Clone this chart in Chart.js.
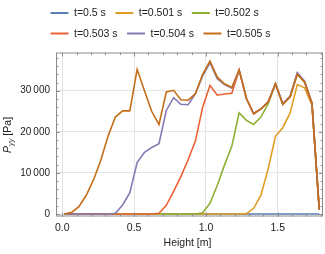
<!DOCTYPE html>
<html>
<head>
<meta charset="utf-8">
<script src="https://cdn.jsdelivr.net/npm/chart.js@4.4.1/dist/chart.umd.min.js"></script>
<style>
  body { margin: 0; background: #fff; }
  #wrap { width: 325px; height: 254px; position: relative; }
</style>
</head>
<body>
<div id="wrap"><canvas id="myChart"></canvas></div>
<script>
// sampled heights [m]
const heights = [0.014, 0.065, 0.115, 0.166, 0.217, 0.268, 0.318, 0.369, 0.420, 0.470,
                 0.521, 0.572, 0.622, 0.673, 0.724, 0.775, 0.825, 0.876, 0.927, 0.977,
                 1.028, 1.079, 1.129, 1.180, 1.231, 1.282, 1.332, 1.383, 1.434, 1.484,
                 1.535, 1.586, 1.636, 1.687, 1.738, 1.789];

const labels = ['t=0.5 s', 't=0.501 s', 't=0.502 s', 't=0.503 s', 't=0.504 s', 't=0.505 s'];
const colors = ['#5E81B5', '#E19C24', '#8FB032', '#EB6235', '#8778B3', '#C56E1A'];

// P_yy [Pa] per time step
const p500 = [0, 0, 0, 0, 0, 0, 0, 0, 0, 0, 0, 0, 0, 0, 0, 0, 0, 0, 0, 0,
              0, 0, 0, 0, 0, 0, 0, 0, 0, 0, 0, 0, 0, 0, 0, 0];
const p501 = [0, 0, 0, 0, 0, 0, 0, 0, 0, 0, 0, 0, 0, 0, 0, 0, 0, 0, 0, 0,
              0, 0, 0, 0, 0, 100, 1400, 4600, 11100, 18900, 21000, 24600, 31500, 30700, 26500, 1100];
const p502 = [0, 0, 0, 0, 0, 0, 0, 0, 0, 0, 0, 0, 0, 0, 0, 0, 0, 0, 0, 300,
              2600, 7000, 11900, 16500, 24600, 22800, 21800, 23600, 26900, 31700, 26700, 28500, 34000, 32100, 27000, 1100];
const p503 = [0, 0, 0, 0, 0, 0, 0, 0, 0, 0, 0, 0, 0, 200, 2100, 5500, 9100, 13200, 17800, 26000,
              31300, 28900, 29200, 29400, 35000, 28100, 24400, 25600, 27300, 31700, 26700, 28500, 34200, 32100, 27000, 1100];
const p504 = [0, 0, 0, 0, 0, 0, 0, 200, 2200, 5200, 12500, 15000, 16200, 17100, 25200, 28300, 26700, 26600, 29300, 33600,
              36800, 32900, 31500, 30600, 35000, 28100, 24400, 25600, 27300, 31700, 26900, 28700, 34400, 32300, 27000, 1100];
const p505 = [0, 400, 1800, 4500, 8300, 13100, 18900, 23600, 25100, 25100, 35200, 30000, 25000, 21800, 29700, 30100, 27800, 27700, 29300, 34000,
              37200, 33300, 31700, 30800, 35100, 28100, 24400, 25600, 27300, 31700, 26700, 28500, 34000, 32100, 27000, 1100];
const series = [p500, p501, p502, p503, p504, p505];

const xTicks = [0.0, 0.5, 1.0, 1.5];
const yTicks = [0, 10000, 20000, 30000];

function fmtThousands(v) {
    if (v === 0) return '0';
    return Math.floor(v / 1000) + '\u2009' + String(v % 1000).padStart(3, '0');
}

// frame with inside ticks, mathematica style
const framePlugin = {
    id: 'frame',
    afterDatasetsDraw(chart) {
        const { ctx, chartArea: a, scales: { x, y } } = chart;
        ctx.save();
        ctx.strokeStyle = '#8c8c8c';
        ctx.lineWidth = 1;
        ctx.strokeRect(a.left + 0.5, a.top + 0.5, a.right - a.left - 1, a.bottom - a.top - 1);
        ctx.beginPath();
        for (let i = 0; i <= 18; i++) {
            const v = i / 10;
            const px = Math.round(x.getPixelForValue(v)) + 0.5;
            const len = (i % 5 === 0) ? 4 : 2.5;
            ctx.moveTo(px, a.bottom); ctx.lineTo(px, a.bottom - len);
            ctx.moveTo(px, a.top); ctx.lineTo(px, a.top + len);
        }
        for (let i = 0; i <= 19; i++) {
            const v = i * 2000;
            const py = Math.round(y.getPixelForValue(v)) + 0.5;
            const len = (i % 5 === 0) ? 4 : 2.5;
            ctx.moveTo(a.left, py); ctx.lineTo(a.left + len, py);
            ctx.moveTo(a.right, py); ctx.lineTo(a.right - len, py);
        }
        ctx.stroke();
        ctx.restore();
    },
    afterDraw(chart) {
        const { ctx, chartArea: a } = chart;
        ctx.save();
        ctx.fillStyle = '#222';
        // x title
        ctx.font = '10.5px "Liberation Sans", Arial, sans-serif';
        ctx.textAlign = 'center';
        ctx.textBaseline = 'middle';
        ctx.fillText('Height [m]', (a.left + a.right) / 2 - 2, 243);
        // y title, rotated, with subscript
        ctx.translate(8, 135);
        ctx.rotate(-Math.PI / 2);
        ctx.textAlign = 'left';
        ctx.textBaseline = 'middle';
        const f1 = 'italic 10.5px "Liberation Sans", Arial, sans-serif';
        const f2 = 'italic 7.5px "Liberation Sans", Arial, sans-serif';
        const f3 = '10.5px "Liberation Sans", Arial, sans-serif';
        ctx.font = f1; const w1 = ctx.measureText('P').width;
        ctx.font = f2; const w2 = ctx.measureText('yy').width;
        ctx.font = f3; const w3 = ctx.measureText(' [Pa]').width;
        let cx = -(w1 + w2 + w3) / 2;
        ctx.font = f1; ctx.fillText('P', cx, 0); cx += w1;
        ctx.font = f2; ctx.fillText('yy', cx, 3); cx += w2;
        ctx.font = f3; ctx.fillText(' [Pa]', cx, 0);
        ctx.restore();

        // legend, two left aligned rows
        ctx.save();
        ctx.font = '10.5px "Liberation Sans", Arial, sans-serif';
        ctx.textBaseline = 'middle';
        ctx.textAlign = 'left';
        const rows = [[0, 1, 2], [3, 4, 5]];
        const rowY = [13, 33.5];
        rows.forEach((row, r) => {
            let lx = 50.5;
            row.forEach(i => {
                ctx.strokeStyle = colors[i];
                ctx.lineWidth = 2;
                ctx.beginPath();
                ctx.moveTo(lx, rowY[r]); ctx.lineTo(lx + 18, rowY[r]);
                ctx.stroke();
                lx += 23.5;
                ctx.fillStyle = '#222';
                ctx.fillText(labels[i], lx, rowY[r] + 0.5);
                lx += ctx.measureText(labels[i]).width + 9.5;
            });
        });
        ctx.restore();
    }
};

const datasets = series.map((vals, i) => ({
    label: labels[i],
    data: heights.map((h, k) => ({ x: h, y: vals[k] })),
    borderColor: colors[i],
    backgroundColor: colors[i],
    borderWidth: 1.6,
    pointRadius: 0,
    showLine: true,
    fill: false,
    tension: 0,
    order: series.length - i
}));

new Chart(document.getElementById('myChart').getContext('2d'), {
    type: 'scatter',
    data: { datasets: datasets },
    options: {
        responsive: true,
        maintainAspectRatio: false,
        animation: false,
        layout: { padding: { top: 52.5, right: 2, left: 0, bottom: 0 } },
        plugins: {
            legend: { display: false },
            tooltip: { enabled: false }
        },
        scales: {
            x: {
                type: 'linear',
                min: -0.044,
                max: 1.815,
                afterFit: s => { s.height = 37.5; },
                afterBuildTicks: s => { s.ticks = xTicks.map(v => ({ value: v })); },
                grid: { color: '#e4e4e4', drawTicks: false },
                border: { display: false },
                ticks: {
                    padding: 5,
                    color: '#222',
                    font: { family: '"Liberation Sans", Arial, sans-serif', size: 10.5 },
                    callback: v => v.toFixed(1)
                }
            },
            y: {
                type: 'linear',
                min: -600,
                max: 39300,
                afterFit: s => { s.width = 56; },
                afterBuildTicks: s => { s.ticks = yTicks.map(v => ({ value: v })); },
                grid: { color: '#e4e4e4', drawTicks: false },
                border: { display: false },
                ticks: {
                    padding: 6,
                    color: '#222',
                    font: { family: '"Liberation Sans", Arial, sans-serif', size: 10 },
                    callback: v => fmtThousands(v)
                }
            }
        }
    },
    plugins: [framePlugin]
});
</script>
</body>
</html>
